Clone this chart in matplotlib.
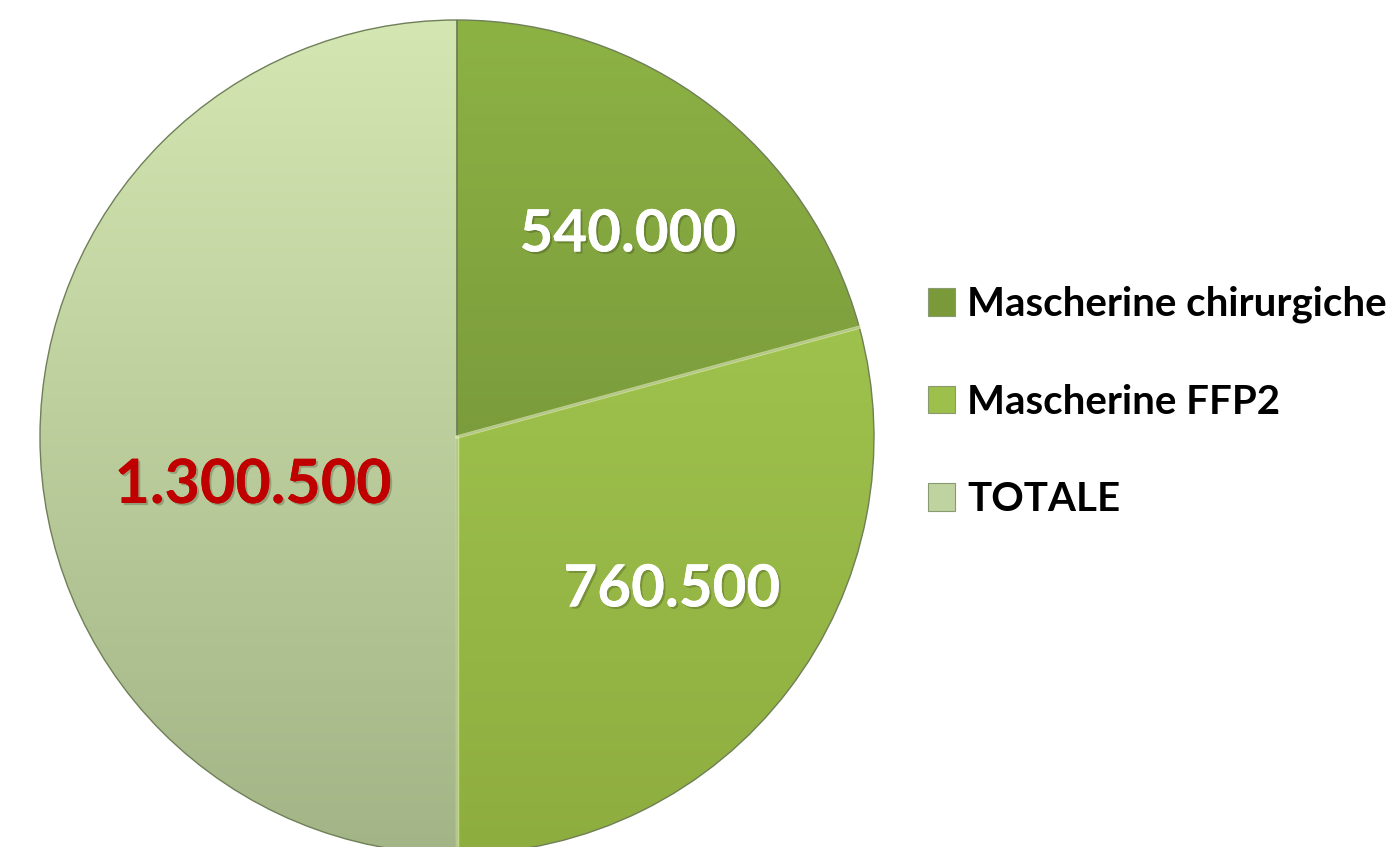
import numpy as np
import matplotlib
matplotlib.use("Agg")
import matplotlib.pyplot as plt
from matplotlib.colors import LinearSegmentedColormap
from matplotlib.patches import Patch
import matplotlib.patheffects as pe

categories = ["Mascherine chirurgiche", "Mascherine FFP2", "TOTALE"]
values = [540000, 760500, 1300500]
value_labels = ["540.000", "760.500", "1.300.500"]
label_colors = ["white", "white", "#C00000"]
top_colors = ["#8DB244", "#A8CD55", "#D4E7B2"]
bottom_colors = ["#6A8634", "#8EAD3F", "#A3B486"]
legend_colors = ["#7A9A3A", "#9DC04C", "#BFD3A0"]

plt.rcParams['font.family'] = ['Lato', 'DejaVu Sans']

W, H = 1387, 847
fig = plt.figure(figsize=(W / 100, H / 100), dpi=100)
cx, cy, r = 457, 437, 417
ax = fig.add_axes([(cx - r) / W, (H - cy - r) / H, 2 * r / W, 2 * r / H])

wedges, _ = ax.pie(values, startangle=90, counterclock=False, radius=1,
                   colors=legend_colors,
                   wedgeprops=dict(edgecolor="#6f7f58", linewidth=1.0))
ax.set_xlim(-1, 1)
ax.set_ylim(-1, 1)
ax.set_aspect("equal")
ax.axis("off")

grad = np.linspace(1, 0, 256).reshape(-1, 1)
for w, ct, cb in zip(wedges, top_colors, bottom_colors):
    cmap = LinearSegmentedColormap.from_list("g", [cb, ct])
    im = ax.imshow(grad, extent=(-1, 1, -1, 1), cmap=cmap, aspect="auto",
                   origin="upper", zorder=w.get_zorder() + 0.1, vmin=0, vmax=1)
    im.set_clip_path(w)
for w in wedges:
    w.set_zorder(3)
    w.set_facecolor("none")

ang_total = 0
tot = sum(values)
for v in values[:2]:
    ang_total += v / tot * 360
    a = np.deg2rad(90 - ang_total)
    ax.plot([0, np.cos(a)], [0, np.sin(a)], color="#e6f5b8", lw=2.5, alpha=0.6, zorder=4)

label_pos = [(628, 235), (672, 590), (253, 485)]
label_sizes = [42, 42, 44]
for (px, py), txt, col, fs in zip(label_pos, value_labels, label_colors, label_sizes):
    x = (px - cx) / r
    y = (cy - py) / r
    t = ax.text(x, y, txt, color=col, fontsize=fs, fontweight="bold",
                ha="center", va="center", zorder=6)
    t.set_path_effects([pe.withSimplePatchShadow(offset=(1.5, -1.5), shadow_rgbFace="black", alpha=0.2), pe.Normal()])

handles = [Patch(facecolor=c, edgecolor="#8a9a70", linewidth=0.8) for c in legend_colors]
leg = fig.legend(handles, categories, loc="center left", bbox_to_anchor=(928 / W, 1 - 402 / H),
                 frameon=False, prop=dict(weight="bold", size=29),
                 handlelength=0.68, handleheight=0.68, handletextpad=0.3, labelspacing=1.5,
                 borderaxespad=0, borderpad=0)

fig.savefig("out.png", dpi=100)
